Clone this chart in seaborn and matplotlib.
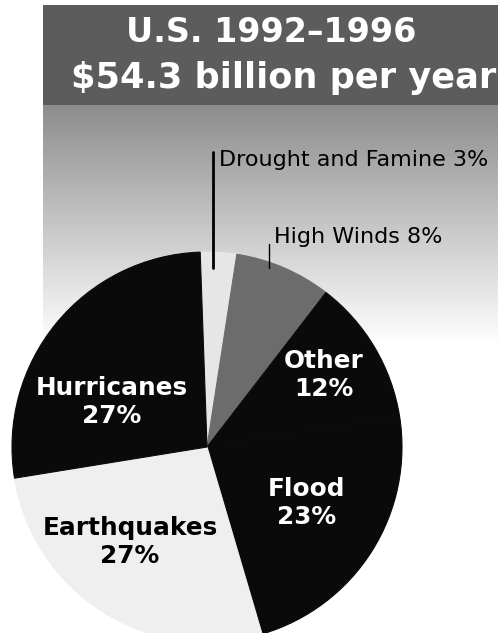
import numpy as np
import matplotlib
matplotlib.use("Agg")
import matplotlib.pyplot as plt
import seaborn as sns

# ---- data ----
categories = ["Drought and Famine", "High Winds", "Other", "Flood", "Earthquakes", "Hurricanes"]
shares = [3, 8, 12, 23, 27, 27]
title_lines = ["U.S. 1992\u20131996", "$54.3 billion per year"]

# ---- style ----
sns.set_theme(style="white")
plt.rcParams['font.family'] = ['DejaVu Sans']
slice_colors = ["#e6e6e6", "#6c6c6c", "#0a0a0a", "#0a0a0a", "#efefef", "#0a0a0a"]

W, H = 498, 633
fig = plt.figure(figsize=(W / 100, H / 100), dpi=100)
ax = fig.add_axes([0, 0, 1, 1])


def py(y):
    return H - y


# background halftone band fading downwards
shade = np.ones((H, W))
for y in range(H):
    if 5 <= y < 105:
        v = 0.36
    elif y >= 105:
        v = min(1.0, 0.55 + (y - 105) / 240 * 0.45)
    else:
        v = 1.0
    shade[y, 43:] = v
ax.imshow(shade, cmap="gray", vmin=0, vmax=1, extent=(0, W, 0, H),
          origin="upper", zorder=0, interpolation="bilinear")

# pie
wedges, _ = ax.pie(shares, colors=slice_colors, startangle=92, counterclock=False,
                   center=(207, py(447)), radius=195,
                   wedgeprops=dict(linewidth=0.8))
for w, c in zip(wedges, slice_colors):
    w.set_edgecolor(c)
    w.set_zorder(2)

ax.set_xlim(0, W)
ax.set_ylim(0, H)
ax.set_aspect("equal")
ax.axis("off")

# title
ax.text(271, py(33), title_lines[0], ha="center", va="center", color="white",
        fontsize=24, fontweight="bold", zorder=5)
ax.text(284, py(78), title_lines[1], ha="center", va="center", color="white",
        fontsize=25.3, fontweight="bold", zorder=5)

# outside labels with leader lines
ax.text(219, py(160), f"{categories[0]} {shares[0]}%", ha="left", va="center",
        color="black", fontsize=16, zorder=5)
ax.plot([213, 213], [py(152), py(268)], color="black", lw=2, zorder=4)
ax.text(274, py(237), f"{categories[1]} {shares[1]}%", ha="left", va="center",
        color="black", fontsize=16, zorder=5)
ax.plot([269, 269], [py(244), py(268)], color="black", lw=1, zorder=4)

# inside labels
inside = [(2, 324, 375, "white"), (3, 307, 503, "white"),
          (4, 130, 542, "black"), (5, 112, 402, "white")]
for idx, x, y, c in inside:
    ax.text(x, py(y), f"{categories[idx]}\n{shares[idx]}%", ha="center", va="center",
            color=c, fontsize=17.8, fontweight="bold", linespacing=1.2, zorder=5)

fig.savefig("out.png", dpi=100)
